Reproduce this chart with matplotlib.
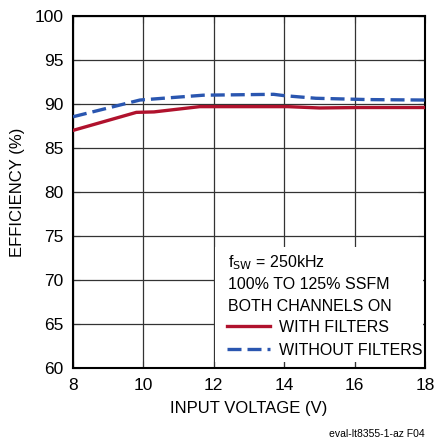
import matplotlib.pyplot as plt
from matplotlib.patches import Rectangle

vin_with = [8, 9.8, 10.3, 11.6, 14.1, 15.0, 16.1, 18]
eff_with = [87.0, 89.05, 89.1, 89.7, 89.7, 89.55, 89.6, 89.6]
vin_without = [8, 9.15, 9.9, 11.7, 13.7, 14.0, 14.9, 16.4, 18]
eff_without = [88.55, 89.7, 90.45, 91.0, 91.1, 90.95, 90.65, 90.5, 90.45]

x_ticks = [8, 10, 12, 14, 16, 18]
y_ticks = [60, 65, 70, 75, 80, 85, 90, 95, 100]

plt.rcParams['font.family'] = ['Liberation Sans', 'DejaVu Sans']
fs = 11.5

fig = plt.figure(figsize=(4.34, 4.43), dpi=100)
ax = fig.add_axes([73 / 434, 1 - 368 / 443, 352 / 434, 352 / 443])

ax.plot(vin_with, eff_with, color='#b0122d', lw=2.4, zorder=3, label='WITH FILTERS')
ax.plot(vin_without, eff_without, color='#2a56b0', lw=2.4, dashes=(4.2, 1.8), zorder=3,
        label='WITHOUT FILTERS')

ax.set_xlim(8, 18)
ax.set_ylim(60, 100)
ax.set_xticks(x_ticks)
ax.set_yticks(y_ticks)
ax.grid(True, color='#333333', lw=0.9, zorder=0)
ax.set_axisbelow(True)
ax.tick_params(direction='in', top=True, right=True, length=5, labelsize=12.5, pad=7,
               color='#333333')
for s in ax.spines.values():
    s.set_linewidth(1.5)

# white panel behind the notes so the grid stops there
ax.add_patch(Rectangle((0.404, 0.017), 0.59, 0.327, transform=ax.transAxes,
                       facecolor='white', edgecolor='none', zorder=1.5))
notes = [r'f$_{\mathrm{SW}}$ = 250kHz', '100% TO 125% SSFM', 'BOTH CHANNELS ON']
for i, t in enumerate(notes):
    ax.text(0.44, 0.298 - i * 0.062, t, transform=ax.transAxes, va='center', ha='left',
            fontsize=fs, zorder=4)
leg = ax.legend(loc='upper left', bbox_to_anchor=(0.4375, 0.137), frameon=False, fontsize=fs,
                handlelength=2.7, handletextpad=0.55, borderaxespad=0, borderpad=0,
                labelspacing=0.5)
leg.set_zorder(4)

ax.set_xlabel('INPUT VOLTAGE (V)', fontsize=12, labelpad=6)
ax.set_ylabel('EFFICIENCY (%)', fontsize=12, labelpad=7)
fig.text(425 / 434, 1 - 434 / 443, 'eval-lt8355-1-az F04', ha='right', va='center', fontsize=7.5)

fig.savefig('out.png', dpi=100)
